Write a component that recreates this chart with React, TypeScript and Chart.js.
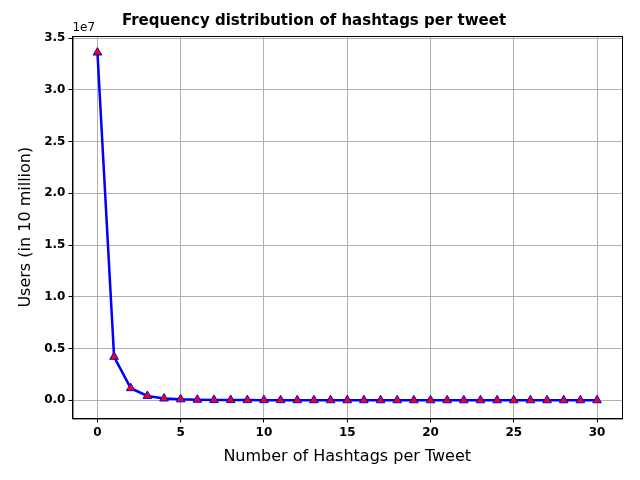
import { useEffect, useRef } from 'react'
import Chart from 'chart.js/auto'

const hashtags = Array.from({ length: 31 }, (_, i) => i)
const users = [
  33600000, 4200000, 1170000, 420000, 170000, 90000, 55000, 35000, 25000, 18000,
  14000, 11000, 9000, 7500, 6000, 5000, 4200, 3600, 3000, 2600,
  2200, 1900, 1700, 1500, 1300, 1100, 1000, 900, 800, 700, 600,
]
const xTicks = [0, 5, 10, 15, 20, 25, 30]
const yTicks = [0, 5e6, 1e7, 1.5e7, 2e7, 2.5e7, 3e7, 3.5e7]

const font = 'DejaVu Sans'

export default function App() {
  const ref = useRef<HTMLCanvasElement>(null)

  useEffect(() => {
    if (!ref.current) return
    document.body.style.margin = '0'
    const extras = {
      id: 'extras',
      afterDraw(c: Chart) {
        const ctx = c.ctx
        const a = c.chartArea
        ctx.save()
        ctx.strokeStyle = '#000'
        ctx.lineWidth = 1
        ctx.strokeRect(a.left + 0.5, a.top + 0.5, a.right - a.left, a.bottom - a.top)
        ctx.font = `12px "${font}"`
        ctx.fillStyle = '#000'
        ctx.textBaseline = 'bottom'
        ctx.fillText('1e7', a.left, a.top - 2)
        ctx.restore()
      },
    }
    const chart = new Chart(ref.current, {
      type: 'line',
      data: {
        datasets: [{
          data: hashtags.map((x, i) => ({ x, y: users[i] })),
          borderColor: '#0000ff',
          borderWidth: 2.5,
          backgroundColor: '#ff0000',
          pointStyle: 'triangle',
          pointRadius: 5,
          pointBorderColor: '#0000ff',
          pointBorderWidth: 1,
          tension: 0,
        }],
      },
      options: {
        animation: false,
        responsive: false,
        layout: { padding: { left: 6, right: 18, top: 0, bottom: 0 } },
        plugins: {
          legend: { display: false },
          tooltip: { enabled: false },
          title: {
            display: true,
            text: 'Frequency distribution of hashtags per tweet',
            font: { family: font, size: 15, weight: 'bold' },
            color: '#000',
            padding: { top: 12, bottom: 6 },
          },
        },
        scales: {
          x: {
            type: 'linear',
            min: -1.5,
            max: 31.5,
            afterBuildTicks: (s: any) => { s.ticks = xTicks.map(v => ({ value: v })) },
            ticks: { color: '#000', font: { family: font, size: 12, weight: 'bold' } },
            grid: { color: '#b0b0b0', tickLength: 4, tickColor: '#000' },
            border: { color: '#000' },
            title: { display: true, text: 'Number of Hashtags per Tweet', color: '#000', font: { family: font, size: 16 }, padding: { top: 4, bottom: 14 } },
          },
          y: {
            min: -1.75e6,
            max: 3.52e7,
            afterBuildTicks: (s: any) => { s.ticks = yTicks.map(v => ({ value: v })) },
            ticks: { color: '#000', font: { family: font, size: 12, weight: 'bold' }, callback: (v: any) => (Number(v) / 1e7).toFixed(1) },
            grid: { color: '#b0b0b0', tickLength: 4, tickColor: '#000' },
            border: { color: '#000' },
            title: { display: true, text: 'Users (in 10 million)', color: '#000', font: { family: font, size: 16 }, padding: { top: 10, bottom: 6 } },
          },
        },
      },
      plugins: [extras],
    })
    return () => { chart.destroy() }
  }, [])

  return <canvas ref={ref} width={640} height={480} style={{ display: 'block' }} />
}
